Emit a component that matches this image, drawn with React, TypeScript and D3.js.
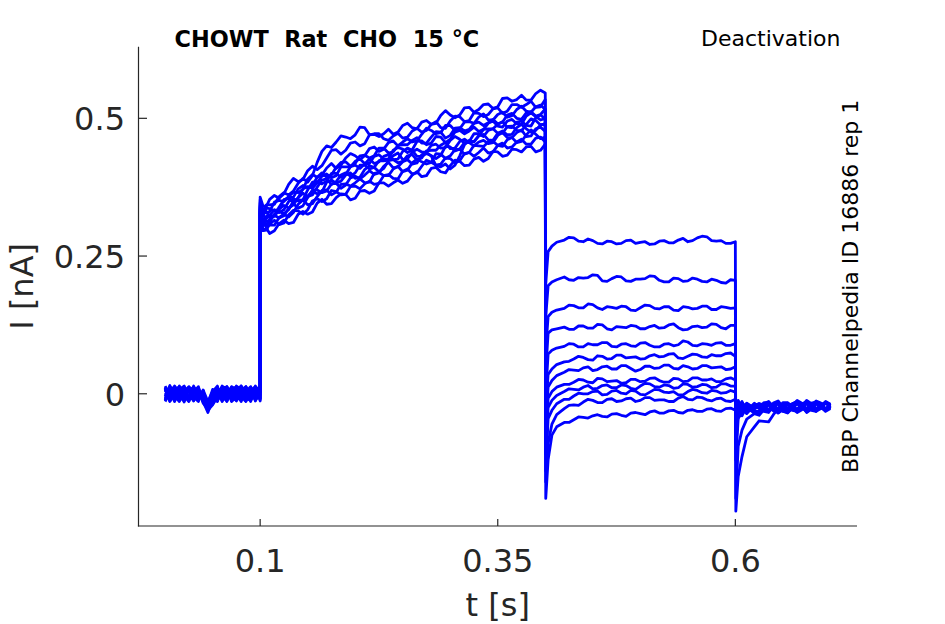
import * as d3 from 'd3';

// sample times (s) for each protocol segment
const tHold = [0, 0.005, 0.01, 0.015, 0.02, 0.025, 0.03, 0.035, 0.04, 0.045, 0.05, 0.055, 0.06, 0.065, 0.07,
    0.075, 0.08, 0.085, 0.09, 0.095, 0.1];
const tStep = [0.103, 0.11, 0.12, 0.13, 0.14, 0.15, 0.16, 0.17, 0.18, 0.19, 0.2, 0.21, 0.22, 0.23, 0.24, 0.25,
    0.26, 0.27, 0.28, 0.29, 0.3, 0.31, 0.32, 0.33, 0.34, 0.35, 0.36, 0.37, 0.38, 0.39, 0.4];
const tStepMid = [0.1065, 0.115, 0.125, 0.135, 0.145, 0.155, 0.165, 0.175, 0.185, 0.195, 0.205, 0.215, 0.225,
    0.235, 0.245, 0.255, 0.265, 0.275, 0.285, 0.295, 0.305, 0.315, 0.325, 0.335, 0.345, 0.355, 0.365, 0.375, 0.385, 0.395];
const tTest = [0.4005, 0.403, 0.407, 0.412, 0.42, 0.43, 0.44, 0.45, 0.46, 0.47, 0.48, 0.49, 0.5, 0.51, 0.52,
    0.53, 0.54, 0.55, 0.56, 0.57, 0.58, 0.59, 0.6];
const tTestMid = [0.425, 0.435, 0.445, 0.455, 0.465, 0.475, 0.485, 0.495, 0.505, 0.515, 0.525, 0.535, 0.545,
    0.555, 0.565, 0.575, 0.585, 0.595];
const tTail = [0.6005, 0.603, 0.607, 0.612, 0.62, 0.63, 0.64, 0.65, 0.66, 0.67, 0.68, 0.69, 0.7];
const tTailMid = [0.625, 0.635, 0.645, 0.655, 0.665, 0.675, 0.685, 0.695];

// current (nA), one row per sweep
const holdValues = [
    [.012, -.006, .014, .002, -.010, .008, -.013, .004, -.008, -.024, -.016, .010, -.004, .013, -.009, .006, .014, -.007, .009, -.012, .004],
    [-.011, .013, -.004, -.014, .009, .003, .012, -.009, .006, -.030, -.020, -.006, .014, -.011, .004, -.013, .007, .012, -.005, .010, -.008],
    [.003, .010, -.013, .008, .014, -.011, .002, .013, -.015, -.018, .008, -.013, .006, .000, .012, -.006, -.012, .004, .013, -.003, .011],
    [-.014, .002, .009, -.006, -.013, .012, .007, -.012, .004, -.026, -.008, .012, -.011, .008, -.014, .011, .001, -.010, .006, .013, -.009],
    [.009, -.013, .006, .013, -.004, -.014, .010, .006, -.006, -.020, -.017, .003, .011, -.014, .009, .002, -.014, .013, -.011, .005, .014],
    [-.005, .015, -.010, -.002, .011, .006, -.012, .009, -.017, -.028, -.006, -.012, .005, .013, -.006, .014, .008, -.013, .002, -.010, -.002],
    [.014, -.002, .011, -.012, .004, .013, -.006, -.014, .007, -.014, .004, .014, -.013, .006, .010, -.011, .012, .006, -.014, .008, .012],
    [-.008, .008, -.014, .011, -.008, -.004, .014, -.003, .002, -.022, -.019, -.002, .009, -.008, .013, .008, -.005, -.014, .012, -.013, .003],
    [.007, -.010, .003, .005, -.015, .010, .004, .011, -.014, -.034, -.010, -.014, .013, .010, -.013, -.008, .011, .009, -.007, .014, -.013],
    [-.002, .012, .008, -.010, .013, -.008, -.010, .007, -.004, -.017, -.002, .009, -.006, -.013, .007, .013, -.010, .002, .010, -.006, .007],
    [.011, -.014, -.002, .014, -.003, .011, -.003, -.009, .005, -.025, -.014, .006, -.014, .011, -.002, -.004, .014, -.008, -.012, .011, -.011],
    [-.012, .005, .013, -.008, .007, -.013, .011, -.005, -.009, -.020, .000, -.008, .010, -.004, .008, -.012, .004, .013, -.003, -.009, .013],
];

const stepPeak = [.357, .352, .348, .345, .342, .340, .338, .336, .334, .332, .330, .328];

const stepValues = [
    [.341, .353, .355, .380, .385, .405, .407, .428, .443, .442, .457, .454, .471, .472, .471, .487, .483, .493, .489, .505, .506, .506, .520, .516, .526, .521, .537, .534, .533, .545, .546],
    [.330, .343, .358, .361, .382, .384, .420, .450, .457, .466, .470, .483, .472, .463, .468, .464, .477, .475, .489, .483, .495, .503, .496, .509, .507, .519, .513, .525, .525, .520, .534],
    [.334, .331, .351, .358, .365, .390, .393, .410, .409, .428, .432, .432, .448, .444, .459, .457, .457, .471, .478, .474, .487, .481, .494, .502, .497, .507, .502, .516, .513, .521, .516],
    [.323, .336, .335, .356, .372, .374, .393, .393, .411, .421, .418, .433, .432, .446, .439, .452, .460, .455, .466, .475, .469, .483, .480, .493, .492, .490, .506, .500, .510, .504, .517],
    [.326, .321, .339, .355, .356, .376, .383, .399, .396, .412, .422, .418, .431, .426, .442, .444, .443, .459, .455, .466, .462, .478, .477, .476, .491, .486, .495, .490, .504, .503, .500],
    [.324, .324, .329, .349, .350, .370, .385, .386, .400, .398, .415, .417, .418, .431, .425, .440, .442, .431, .432, .412, .408, .432, .460, .468, .481, .489, .484, .493, .487, .501, .499],
    [.310, .323, .335, .337, .356, .358, .375, .390, .385, .401, .401, .415, .411, .423, .432, .425, .439, .439, .451, .446, .460, .462, .458, .472, .478, .473, .485, .478, .489, .496, .490],
    [.315, .312, .331, .334, .352, .359, .363, .384, .382, .397, .391, .407, .411, .409, .425, .422, .434, .428, .442, .451, .445, .458, .456, .468, .461, .473, .470, .483, .481, .478, .490],
    [.306, .317, .319, .337, .337, .356, .370, .368, .382, .379, .395, .397, .398, .413, .410, .421, .417, .434, .432, .433, .448, .444, .456, .457, .454, .469, .465, .474, .467, .481, .476],
    [.311, .306, .320, .321, .344, .343, .358, .370, .366, .381, .383, .383, .400, .396, .408, .403, .419, .421, .420, .435, .432, .444, .438, .450, .457, .451, .461, .456, .470, .471, .466],
    [.296, .308, .307, .325, .332, .334, .354, .354, .367, .362, .377, .381, .380, .396, .391, .404, .399, .413, .420, .417, .427, .423, .438, .438, .437, .451, .446, .457, .453, .464, .457],
    [.296, .291, .309, .309, .326, .326, .346, .344, .356, .362, .355, .369, .368, .383, .383, .382, .397, .394, .409, .403, .414, .422, .415, .429, .427, .439, .433, .443, .448, .439, .453],
];

const stepMidValues = [
    [.340, .360, .363, .391, .389, .413, .414, .442, .435, .455, .450, .470, .467, .480, .475, .491, .481, .496, .491, .514, .501, .519, .511, .525, .518, .536, .531, .542, .533, .551],
    [.343, .344, .365, .368, .391, .396, .440, .447, .468, .463, .484, .470, .472, .460, .473, .466, .482, .478, .494, .482, .504, .494, .510, .503, .517, .509, .525, .520, .531, .521],
    [.328, .348, .349, .366, .371, .398, .397, .418, .415, .436, .425, .445, .440, .456, .450, .463, .459, .482, .472, .487, .478, .493, .491, .508, .497, .511, .505, .522, .511, .524],
    [.337, .332, .352, .357, .378, .378, .401, .397, .420, .413, .432, .428, .446, .437, .451, .452, .465, .455, .476, .464, .482, .477, .491, .487, .498, .493, .509, .498, .512, .507],
    [.331, .324, .352, .348, .372, .373, .395, .392, .412, .412, .426, .418, .434, .426, .447, .438, .458, .452, .467, .456, .475, .472, .484, .480, .495, .484, .498, .489, .510, .497],
    [.318, .334, .334, .354, .352, .384, .381, .400, .393, .412, .409, .426, .421, .434, .426, .446, .431, .436, .414, .417, .415, .452, .457, .480, .481, .494, .483, .495, .486, .506],
    [.322, .322, .342, .343, .364, .361, .388, .380, .397, .395, .415, .408, .423, .424, .437, .426, .444, .438, .453, .447, .467, .455, .472, .467, .481, .473, .486, .477, .499, .488],
    [.307, .326, .327, .350, .351, .367, .366, .388, .386, .401, .393, .414, .403, .423, .419, .432, .424, .441, .442, .456, .446, .462, .458, .471, .460, .477, .471, .489, .475, .488],
    [.305, .324, .323, .345, .341, .370, .365, .381, .373, .392, .390, .405, .401, .420, .412, .425, .419, .438, .427, .449, .441, .456, .450, .460, .456, .474, .465, .479, .468, .484],
    [.315, .306, .326, .329, .352, .345, .369, .361, .380, .377, .390, .384, .402, .396, .413, .406, .426, .417, .436, .427, .443, .435, .451, .449, .458, .449, .465, .458, .479, .463],
    [.297, .315, .310, .333, .326, .350, .349, .369, .361, .376, .372, .386, .382, .398, .390, .408, .401, .424, .415, .428, .419, .436, .431, .446, .439, .455, .448, .462, .453, .466],
    [.301, .296, .315, .311, .331, .330, .353, .345, .363, .352, .368, .364, .383, .377, .388, .386, .403, .396, .411, .401, .424, .414, .426, .422, .440, .431, .444, .439, .449, .442],
];

const testValues = [
    [.200, .258, .268, .275, .279, .283, .276, .278, .272, .276, .273, .279, .275, .271, .277, .274, .279, .276, .283, .285, .277, .273, .276],
    [.140, .196, .203, .207, .212, .206, .210, .216, .205, .209, .212, .204, .208, .214, .206, .203, .209, .205, .208, .203, .206, .201, .206],
    [.080, .140, .148, .152, .155, .160, .156, .162, .153, .157, .159, .152, .156, .160, .154, .158, .151, .157, .155, .159, .153, .157, .156],
    [.040, .110, .116, .118, .121, .117, .123, .119, .125, .116, .121, .124, .118, .122, .119, .125, .120, .117, .123, .121, .126, .118, .124],
    [.000, .072, .079, .083, .086, .090, .085, .089, .093, .086, .090, .087, .092, .088, .085, .091, .089, .094, .087, .090, .092, .088, .091],
    [-.030, .035, .045, .053, .058, .063, .066, .061, .068, .064, .070, .066, .063, .069, .067, .072, .065, .068, .071, .066, .069, .073, .068],
    [-.060, .012, .024, .033, .039, .043, .047, .042, .049, .045, .051, .046, .044, .050, .047, .052, .045, .049, .046, .051, .048, .044, .049],
    [-.090, -.008, .004, .012, .017, .021, .025, .020, .027, .023, .019, .026, .022, .028, .024, .021, .027, .023, .029, .025, .022, .027, .025],
    [-.110, -.025, -.012, -.003, .004, .008, .012, .009, .015, .011, .016, .010, .014, .018, .012, .015, .011, .017, .013, .016, .012, .018, .014],
    [-.140, -.045, -.030, -.018, -.010, -.004, .000, .004, -.002, .005, .001, .006, -.001, .003, .007, .002, -.002, .004, .006, .001, .005, .002, .003],
    [-.160, -.090, -.055, -.038, -.027, -.020, -.015, -.012, -.016, -.009, -.013, -.008, -.012, -.007, -.011, -.014, -.008, -.010, -.006, -.011, -.009, -.013, -.010],
    [-.190, -.120, -.075, -.060, -.052, -.047, -.043, -.040, -.041, -.037, -.039, -.035, -.036, -.033, -.035, -.031, -.034, -.030, -.032, -.028, -.031, -.027, -.030],
];

const testMidValues = [
    [.284, .277, .281, .273, .277, .272, .278, .273, .276, .272, .278, .274, .282, .278, .286, .278, .278, .273],
    [.207, .211, .211, .215, .204, .213, .205, .208, .209, .213, .203, .210, .204, .210, .204, .208, .202, .207],
    [.161, .156, .163, .156, .158, .155, .158, .151, .161, .155, .158, .152, .158, .154, .159, .153, .158, .155],
    [.117, .123, .119, .126, .118, .122, .120, .123, .118, .124, .120, .127, .116, .122, .120, .127, .120, .124],
    [.091, .085, .091, .089, .093, .085, .091, .086, .093, .085, .090, .087, .096, .088, .091, .088, .093, .088],
    [.059, .068, .062, .069, .063, .070, .065, .067, .064, .071, .068, .073, .064, .072, .067, .071, .069, .074],
    [.044, .042, .049, .044, .050, .045, .051, .041, .050, .046, .052, .046, .051, .045, .051, .047, .049, .045],
    [.017, .026, .021, .028, .022, .024, .020, .026, .023, .029, .021, .028, .022, .029, .025, .027, .022, .029],
    [.009, .007, .015, .010, .016, .011, .015, .008, .019, .013, .016, .010, .018, .012, .017, .011, .018, .014],
    [-.010, .001, .000, .005, -.001, .006, .000, .005, -.002, .008, .003, .004, -.002, .008, .002, .006, .001, .006],
    [-.021, -.021, -.010, -.016, -.010, -.014, -.009, -.014, -.007, -.012, -.011, -.014, -.005, -.011, -.007, -.013, -.008, -.014],
    [-.052, -.042, -.044, -.038, -.042, -.036, -.041, -.034, -.038, -.031, -.035, -.030, -.035, -.029, -.032, -.027, -.032, -.026],
];

const tailValues = [
    [-.213, -.150, -.114, -.078, -.060, -.050, -.038, -.031, -.026, -.022, -.027, -.021, -.025],
    [-.190, -.095, -.066, -.046, -.036, -.029, -.024, -.028, -.020, -.025, -.019, -.024, -.022],
    [-.120, -.045, -.034, -.028, -.022, -.030, -.019, -.026, -.021, -.017, -.024, -.020, -.023],
    [-.100, -.030, -.020, -.031, -.017, -.025, -.021, -.016, -.027, -.022, -.018, -.026, -.020],
    [-.090, -.022, -.035, -.018, -.028, -.020, -.027, -.023, -.018, -.025, -.021, -.017, -.024],
    [-.080, -.038, -.016, -.026, -.033, -.018, -.024, -.029, -.022, -.019, -.026, -.023, -.019],
    [-.070, -.015, -.028, -.036, -.021, -.027, -.017, -.024, -.028, -.021, -.017, -.025, -.022],
    [-.060, -.027, -.040, -.022, -.030, -.023, -.031, -.020, -.025, -.029, -.022, -.019, -.026],
    [-.050, -.012, -.024, -.030, -.019, -.032, -.022, -.027, -.018, -.023, -.028, -.021, -.018],
    [-.045, -.033, -.018, -.025, -.035, -.021, -.028, -.019, -.030, -.020, -.024, -.027, -.021],
    [-.040, -.020, -.030, -.017, -.026, -.030, -.020, -.032, -.023, -.026, -.020, -.023, -.027],
    [-.040, -.025, -.014, -.032, -.024, -.016, -.029, -.022, -.026, -.018, -.030, -.022, -.024],
];

const tailMidValues = [
    [-.049, -.051, -.027, -.035, -.017, -.033, -.018, -.030],
    [-.039, -.020, -.034, -.018, -.030, -.014, -.028, -.016],
    [-.020, -.032, -.015, -.030, -.012, -.029, -.016, -.029],
    [-.027, -.016, -.027, -.016, -.032, -.012, -.028, -.016],
    [-.018, -.031, -.017, -.027, -.015, -.031, -.013, -.028],
    [-.032, -.014, -.035, -.020, -.028, -.015, -.031, -.014],
    [-.018, -.029, -.013, -.032, -.018, -.027, -.015, -.031],
    [-.033, -.020, -.034, -.017, -.034, -.018, -.027, -.016],
    [-.020, -.034, -.017, -.029, -.014, -.034, -.019, -.027],
    [-.034, -.018, -.032, -.019, -.032, -.014, -.032, -.017],
    [-.022, -.032, -.018, -.034, -.018, -.031, -.016, -.032],
    [-.026, -.016, -.034, -.018, -.029, -.016, -.032, -.016],
];

const xTicks = [0.1, 0.35, 0.6];
const yTicks = [0, 0.25, 0.5];
const title = 'CHOWT  Rat  CHO  15 °C';
const protocol = 'Deactivation';
const source = 'BBP Channelpedia ID 16886 rep 1';

const width = 945;
const height = 624;
const font = '"DejaVu Sans", sans-serif';
const axisColor = '#262626';

type Pt = [number, number];

const pair = (ts: number[], vs: number[]): Pt[] =>
    ts.map((t, i) => [t, vs[i]] as Pt).filter(p => p[1] !== undefined);

// one segment = main samples plus in-between samples, in time order
const segment = (ts: number[], vs: number[], tm: number[], vm: number[]): Pt[] =>
    [...pair(ts, vs), ...pair(tm, vm)].sort((a, b) => a[0] - b[0]);

const App = () => {
    const x = d3.scaleLinear().domain([-0.028, 0.728]).range([138.5, 857]);
    const y = d3.scaleLinear().domain([-0.24, 0.63]).range([526, 46.7]);
    const line = d3.line<Pt>().x(d => x(d[0])).y(d => y(d[1]));

    const sweeps = holdValues.map((_, k) => [
        ...pair(tHold, holdValues[k]),
        [0.1, stepPeak[k]] as Pt,
        ...segment(tStep, stepValues[k], tStepMid, stepMidValues[k]),
        ...segment(tTest, testValues[k], tTestMid, testMidValues[k]),
        ...segment(tTail, tailValues[k], tTailMid, tailMidValues[k]),
    ]);

    const [x0, x1] = x.range();
    const [y0, y1] = y.range();

    return (
        <svg width={width} height={height} style={{ position: 'absolute', left: 0, top: 0, display: 'block', background: '#fff' }}
            fontFamily={font}>
            <g fill="none" stroke="#0000ff" strokeWidth={2.8} strokeLinejoin="round">
                {sweeps.map((s, k) => <path key={k} d={line(s) || ''} />)}
            </g>

            {/* axes, MATLAB style: left and bottom only, ticks pointing in */}
            <g stroke={axisColor} strokeWidth={1.2} fill="none">
                <line x1={x0} x2={x0} y1={y0 + 0.6} y2={y1} />
                <line x1={x0 - 0.6} x2={x1} y1={y0} y2={y0} />
                {xTicks.map(t => <line key={t} x1={x(t)} x2={x(t)} y1={y0} y2={y0 - 7} />)}
                {yTicks.map(t => <line key={t} x1={x0} x2={x0 + 8.5} y1={y(t)} y2={y(t)} />)}
            </g>
            <g fill={axisColor} fontSize={32}>
                {xTicks.map(t => (
                    <text key={t} x={x(t)} y={572} textAnchor="middle">{String(t)}</text>
                ))}
                {yTicks.map(t => (
                    <text key={t} x={125} y={y(t) + 12} textAnchor="end">{String(t)}</text>
                ))}
                <text x={(x0 + x1) / 2} y={616} textAnchor="middle">t [s]</text>
                <text transform={`translate(33,${(y0 + y1) / 2}) rotate(-90)`} textAnchor="middle">I [nA]</text>
            </g>

            <text x={174.5} y={47} fontSize={22.4} fontWeight="bold" fill="#000" style={{ whiteSpace: 'pre' }}>{title}</text>
            <text x={840.5} y={46} fontSize={22} fill="#000" textAnchor="end">{protocol}</text>
            <text transform={`translate(858,${(y0 + y1) / 2}) rotate(-90)`} fontSize={22} fill="#000" textAnchor="middle">{source}</text>
        </svg>
    );
};

export default App;
